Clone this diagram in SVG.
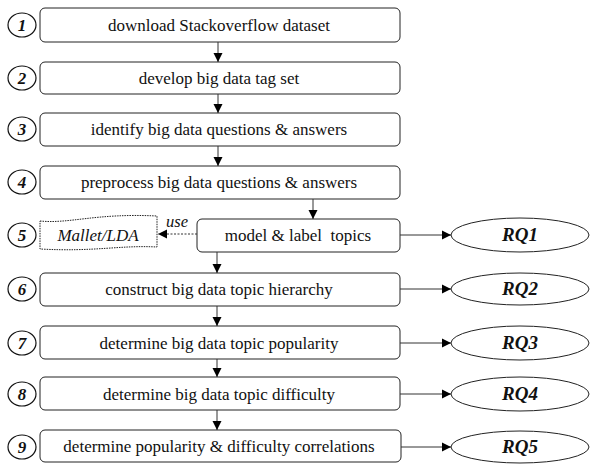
<svg xmlns="http://www.w3.org/2000/svg" width="592" height="464" viewBox="0 0 592 464">
<defs>
<marker id="ah" markerWidth="10" markerHeight="10" refX="9" refY="5" orient="auto" markerUnits="userSpaceOnUse">
<path d="M0,0.5 L9,5 L0,9.5 Z" fill="#000"/>
</marker>
</defs>
<style>
.box{fill:#fff;stroke:#222;stroke-width:1}
.num{fill:#fff;stroke:#111;stroke-width:1.2}
text{font-family:"Liberation Serif","Times New Roman",serif}
.t{font-size:17px;fill:#111;text-anchor:middle;white-space:pre}
.n{font-size:17px;font-weight:bold;font-style:italic;fill:#111;text-anchor:middle}
.rq{font-size:19px;font-weight:bold;font-style:italic;fill:#111;text-anchor:middle}
.it{font-size:17px;font-style:italic;fill:#111;text-anchor:middle}
.c{stroke:#333;stroke-width:1;fill:none}
</style>
<rect width="592" height="464" fill="#fff"/>
<g id="step1"><ellipse class="num" cx="22" cy="25" rx="14" ry="12"/><text class="n" x="22" y="31">1</text>
<rect class="box" x="40" y="8" width="360" height="34" rx="5"/><text class="t" x="219" y="31">download Stackoverflow dataset</text></g>
<g id="step2"><ellipse class="num" cx="22" cy="78" rx="14" ry="12"/><text class="n" x="22" y="84">2</text>
<rect class="box" x="40" y="62" width="360" height="32" rx="5"/><text class="t" x="219" y="84">develop big data tag set</text></g>
<g id="step3"><ellipse class="num" cx="22" cy="129" rx="14" ry="12"/><text class="n" x="22" y="135">3</text>
<rect class="box" x="40" y="113" width="360" height="33" rx="5"/><text class="t" x="219" y="135">identify big data questions &amp; answers</text></g>
<g id="step4"><ellipse class="num" cx="22" cy="182" rx="14" ry="12"/><text class="n" x="22" y="188">4</text>
<rect class="box" x="40" y="166" width="360" height="33" rx="5"/><text class="t" x="219" y="188">preprocess big data questions &amp; answers</text></g>
<g id="step5"><ellipse class="num" cx="22" cy="235" rx="14" ry="12"/><text class="n" x="22" y="241">5</text>
<rect class="box" x="197" y="219" width="203" height="33" rx="5"/><text class="t" x="298" y="241">model &amp; label  topics</text></g>
<g id="mallet"><path d="M40,221 C70,224 95,213 157,216 L157,247 C120,245 95,252 40,249 Z" fill="#fff" stroke="#222" stroke-width="1" stroke-dasharray="1.5,1"/>
<text class="it" x="98" y="241">Mallet/LDA</text></g>
<g id="step6"><ellipse class="num" cx="22" cy="289" rx="14" ry="12"/><text class="n" x="22" y="295">6</text>
<rect class="box" x="40" y="273" width="360" height="33" rx="5"/><text class="t" x="219" y="295">construct big data topic hierarchy</text></g>
<g id="step7"><ellipse class="num" cx="22" cy="343" rx="14" ry="12"/><text class="n" x="22" y="349">7</text>
<rect class="box" x="40" y="326" width="360" height="33" rx="5"/><text class="t" x="219" y="349">determine big data topic popularity</text></g>
<g id="step8"><ellipse class="num" cx="22" cy="394" rx="14" ry="12"/><text class="n" x="22" y="400">8</text>
<rect class="box" x="40" y="377" width="360" height="33" rx="5"/><text class="t" x="219" y="400">determine big data topic difficulty</text></g>
<g id="step9"><ellipse class="num" cx="22" cy="447" rx="14" ry="12"/><text class="n" x="22" y="453">9</text>
<rect class="box" x="40" y="430" width="361" height="32" rx="5"/><text class="t" x="219" y="452">determine popularity &amp; difficulty correlations</text></g>
<g id="rq1"><ellipse class="box" cx="520" cy="235" rx="69" ry="17"/><text class="rq" x="520" y="241">RQ1</text></g>
<g id="rq2"><ellipse class="box" cx="520" cy="289" rx="69" ry="16"/><text class="rq" x="520" y="295">RQ2</text></g>
<g id="rq3"><ellipse class="box" cx="520" cy="343" rx="69" ry="17"/><text class="rq" x="520" y="349">RQ3</text></g>
<g id="rq4"><ellipse class="box" cx="520" cy="394" rx="69" ry="17"/><text class="rq" x="520" y="400">RQ4</text></g>
<g id="rq5"><ellipse class="box" cx="520" cy="447" rx="69" ry="16"/><text class="rq" x="520" y="453">RQ5</text></g>
<g id="connectors">
<line class="c" x1="218" y1="42" x2="218" y2="62" marker-end="url(#ah)"/>
<line class="c" x1="218" y1="94" x2="218" y2="113" marker-end="url(#ah)"/>
<line class="c" x1="218" y1="146" x2="218" y2="166" marker-end="url(#ah)"/>
<line class="c" x1="313" y1="199" x2="313" y2="219" marker-end="url(#ah)"/>
<line class="c" x1="217" y1="252" x2="217" y2="273" marker-end="url(#ah)"/>
<line class="c" x1="217" y1="306" x2="217" y2="326" marker-end="url(#ah)"/>
<line class="c" x1="217" y1="359" x2="217" y2="377" marker-end="url(#ah)"/>
<line class="c" x1="217" y1="410" x2="217" y2="430" marker-end="url(#ah)"/>
<line class="c" x1="197" y1="234" x2="158" y2="234" stroke-dasharray="2,1.5" marker-end="url(#ah)"/>
<text class="it" x="177" y="227" style="font-size:16.5px">use</text>
<line class="c" x1="400" y1="235" x2="451" y2="235" marker-end="url(#ah)"/>
<line class="c" x1="400" y1="289" x2="451" y2="289" marker-end="url(#ah)"/>
<line class="c" x1="400" y1="343" x2="451" y2="343" marker-end="url(#ah)"/>
<line class="c" x1="400" y1="394" x2="451" y2="394" marker-end="url(#ah)"/>
<line class="c" x1="401" y1="447" x2="451" y2="447" marker-end="url(#ah)"/>
</g>
</svg>
